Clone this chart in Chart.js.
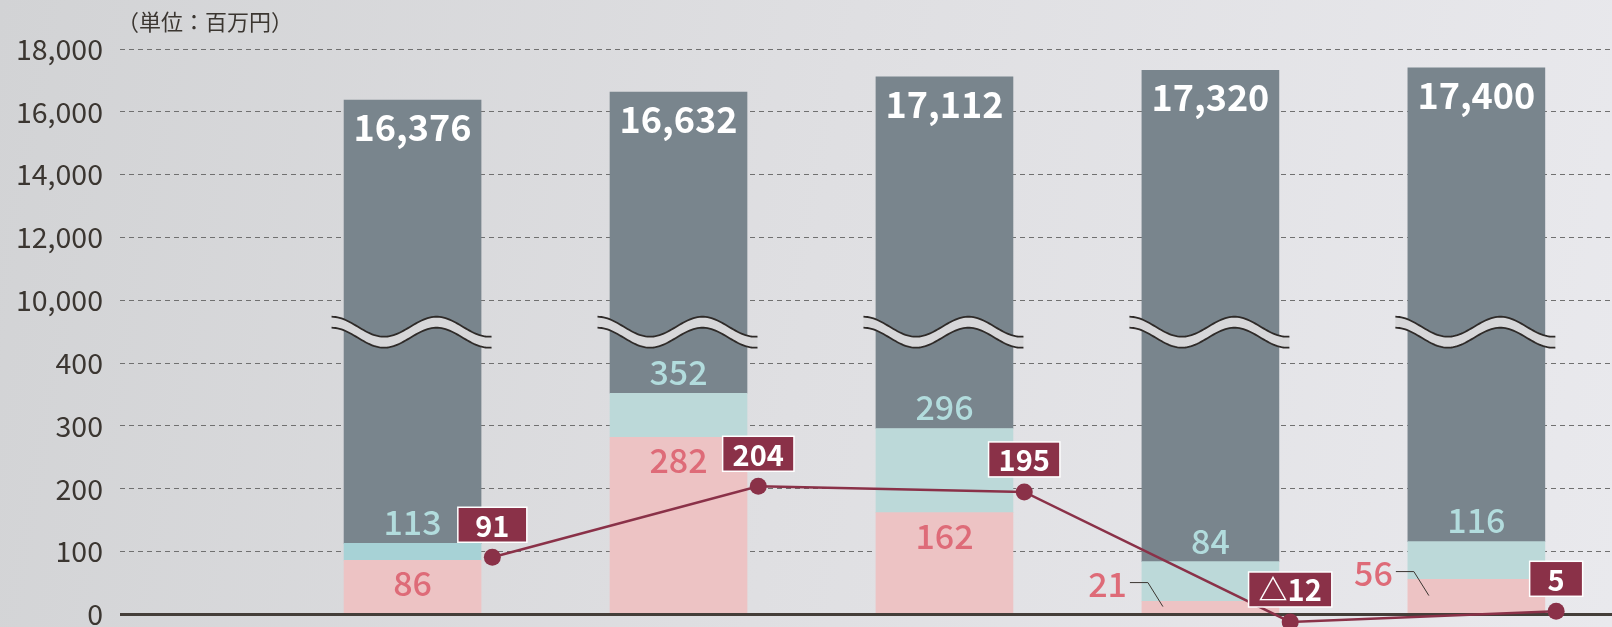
<!DOCTYPE html>
<html>
<head>
<meta charset="utf-8">
<script src="https://cdn.jsdelivr.net/npm/chart.js@4"></script>
<style>
  html, body { margin: 0; padding: 0; }
  #wrap {
    width: 1612px; height: 627px; position: relative;
    background: linear-gradient(100deg, #d2d3d5 0%, #dfdfe2 50%, #e9e9ed 100%);
  }
</style>
</head>
<body>
<div id="wrap"><canvas id="myChart"></canvas></div>
<script>
const categories = ['1', '2', '3', '4', '5'];
const pinkValues = [86, 282, 162, 21, 56];
const tealTotals = [113, 352, 296, 84, 116];
const grandTotals = [16376, 16632, 17112, 17320, 17400];
const lineValues = [91, 204, 195, -12, 5];
const tickValues = [0, 100, 200, 300, 400, 10000, 12000, 14000, 16000, 18000];
const unitLabel = '（単位：百万円）';

const FONT = '"Noto Sans CJK JP", "Noto Sans", sans-serif';
const lineShift = 0.3;

// broken y axis: 0-400 in steps of 100, then 10,000-18,000 in steps of 2,000
class BrokenScale extends Chart.LinearScale {
  static id = 'broken';
  static defaults = Chart.LinearScale.defaults;
  units(v) {
    if (v >= 10000) return 5 + (v - 10000) / 2000;
    if (v <= 400) return v / 100;
    return 4 + (v - 400) / (10000 - 400);
  }
  fromUnits(u) {
    if (u >= 5) return 10000 + (u - 5) * 2000;
    if (u <= 4) return u * 100;
    return 400 + (u - 4) * (10000 - 400);
  }
  buildTicks() {
    return tickValues.map(v => ({ value: v }));
  }
  getPixelForValue(v) {
    if (v === null || v === undefined) return NaN;
    const a = this.units(this.min), b = this.units(this.max);
    return this.getPixelForDecimal((this.units(v) - a) / (b - a));
  }
  getValueForPixel(p) {
    const a = this.units(this.min), b = this.units(this.max);
    return this.fromUnits(a + this.getDecimalForPixel(p) * (b - a));
  }
}
Chart.register(BrokenScale);

const idx = categories.map((c, i) => i);
const tealSeg = tealTotals.map((t, i) => t - pinkValues[i]);
const greySeg = grandTotals.map((t, i) => t - tealTotals[i]);

function fmt(v) {
  return v < 0 ? '△' + Math.abs(v) : v.toLocaleString('en-US');
}

const decor = {
  id: 'decor',
  beforeDatasetDraw(chart, args) {
    if (args.index !== 3) return;
    const ctx = chart.ctx;
    const y = chart.scales.y;
    const area = chart.chartArea;
    ctx.save();
    // zero line
    const y0 = y.getPixelForValue(0);
    ctx.strokeStyle = '#443e39';
    ctx.lineWidth = 3;
    ctx.beginPath();
    ctx.moveTo(area.left, y0);
    ctx.lineTo(area.right, y0);
    ctx.stroke();
    // break marks
    const mid = (y.getPixelForValue(400) + y.getPixelForValue(10000)) / 2;
    chart.getDatasetMeta(2).data.forEach(bar => {
      const x0 = bar.x - 81, x1 = bar.x + 79;
      const top = [], bot = [];
      for (let x = x0; x <= x1; x += 2) {
        const yy = mid - 5 - 10 * Math.cos(2 * Math.PI * (x - x0) / 105);
        top.push([x, yy]);
        bot.push([x, yy + 11]);
      }
      ctx.beginPath();
      top.forEach((p, i) => i ? ctx.lineTo(p[0], p[1]) : ctx.moveTo(p[0], p[1]));
      bot.slice().reverse().forEach(p => ctx.lineTo(p[0], p[1]));
      ctx.closePath();
      ctx.fillStyle = '#d7d7d9';
      ctx.fill();
      ctx.strokeStyle = '#2e2a28';
      ctx.lineWidth = 1.8;
      [top, bot].forEach(line => {
        ctx.beginPath();
        line.forEach((p, i) => i ? ctx.lineTo(p[0], p[1]) : ctx.moveTo(p[0], p[1]));
        ctx.stroke();
      });
    });
    ctx.restore();
  },
  afterDatasetsDraw(chart) {
    const ctx = chart.ctx;
    const area = chart.chartArea;
    ctx.save();
    ctx.textBaseline = 'middle';

    // unit
    ctx.font = '22px ' + FONT;
    ctx.fillStyle = '#3b3631';
    ctx.textAlign = 'left';
    ctx.fillText(unitLabel, area.left - 3, 22);

    const pinkBars = chart.getDatasetMeta(0).data;
    const tealBars = chart.getDatasetMeta(1).data;
    const greyBars = chart.getDatasetMeta(2).data;

    greyBars.forEach((bar, i) => {
      ctx.font = 'bold 36px ' + FONT;
      ctx.fillStyle = '#ffffff';
      ctx.textAlign = 'center';
      ctx.fillText(fmt(grandTotals[i]), bar.x, bar.y + 27);

      ctx.font = '500 34px ' + FONT;
      ctx.fillStyle = '#b2dcdd';
      ctx.fillText(fmt(tealTotals[i]), bar.x, tealBars[i].y - 21);

      const pb = pinkBars[i];
      const h = pb.base - pb.y;
      ctx.fillStyle = '#de6b78';
      if (h >= 40) {
        ctx.fillText(fmt(pinkValues[i]), pb.x, pb.y + 23);
      } else {
        const left = pb.x - pb.width / 2;
        const pm = (pb.y + pb.base) / 2;
        ctx.textAlign = 'right';
        ctx.fillText(fmt(pinkValues[i]), left - 15, pm - 24);
        ctx.strokeStyle = '#3b3631';
        ctx.lineWidth = 1;
        ctx.beginPath();
        ctx.moveTo(left - 12, pm - 25);
        ctx.lineTo(left + 6, pm - 25);
        ctx.lineTo(left + 21, pm - 1);
        ctx.stroke();
      }
    });

    chart.getDatasetMeta(3).data.forEach((pt, i) => {
      const txt = fmt(lineValues[i]);
      ctx.font = 'bold 29px ' + FONT;
      const tw = ctx.measureText(txt).width;
      const w = txt.length === 1 ? 53 : Math.max(69, tw + 20);
      const hgt = 35;
      const bx = pt.x - w / 2, by = pt.y - 15 - hgt;
      ctx.fillStyle = '#8a3148';
      ctx.fillRect(bx, by, w, hgt);
      ctx.strokeStyle = '#ffffff';
      ctx.lineWidth = 1.5;
      ctx.strokeRect(bx, by, w, hgt);
      ctx.fillStyle = '#ffffff';
      ctx.textAlign = 'center';
      ctx.fillText(txt, pt.x, by + hgt / 2 + 1);
    });
    ctx.restore();
  }
};

new Chart(document.getElementById('myChart'), {
  type: 'bar',
  data: {
    datasets: [
      {
        label: 'pink',
        data: idx.map(i => ({ x: i, y: pinkValues[i] })),
        backgroundColor: '#edc3c4',
        order: 1
      },
      {
        label: 'teal',
        data: idx.map(i => ({ x: i, y: tealSeg[i] })),
        backgroundColor: ['#a7d2d6', '#bcd9d9', '#bcd9d9', '#bcd9d9', '#bcd9d9'],
        order: 1
      },
      {
        label: 'grey',
        data: idx.map(i => ({ x: i, y: greySeg[i] })),
        backgroundColor: '#79858d',
        order: 1
      },
      {
        type: 'line',
        label: 'line',
        stack: 'line',
        data: idx.map(i => ({ x: i + lineShift, y: lineValues[i] })),
        borderColor: '#8a3148',
        backgroundColor: '#8a3148',
        borderWidth: 2.5,
        pointRadius: 8.5,
        pointBorderWidth: 0,
        tension: 0,
        clip: false,
        order: 0
      }
    ]
  },
  options: {
    responsive: true,
    maintainAspectRatio: false,
    animation: false,
    barThickness: 137,
    layout: { autoPadding: false, padding: { top: 49, right: 0, bottom: 0, left: 0 } },
    plugins: {
      legend: { display: false },
      tooltip: { enabled: false }
    },
    scales: {
      x: {
        type: 'linear',
        stacked: true,
        offset: false,
        min: -1.1,
        max: 4.51,
        display: false
      },
      y: {
        type: 'broken',
        stacked: true,
        min: -20,
        max: 18000,
        afterFit(scale) {
          scale.width = 120;
          scale.paddingTop = 0;
          scale.paddingBottom = 0;
        },
        border: { display: false, dash: [5, 4] },
        grid: { color: '#707070', lineWidth: 1, drawTicks: false },
        ticks: {
          padding: 17,
          color: '#3b3631',
          font: { family: FONT, size: 28.5 },
          callback: v => v.toLocaleString('en-US')
        }
      }
    }
  },
  plugins: [decor]
});
</script>
</body>
</html>
